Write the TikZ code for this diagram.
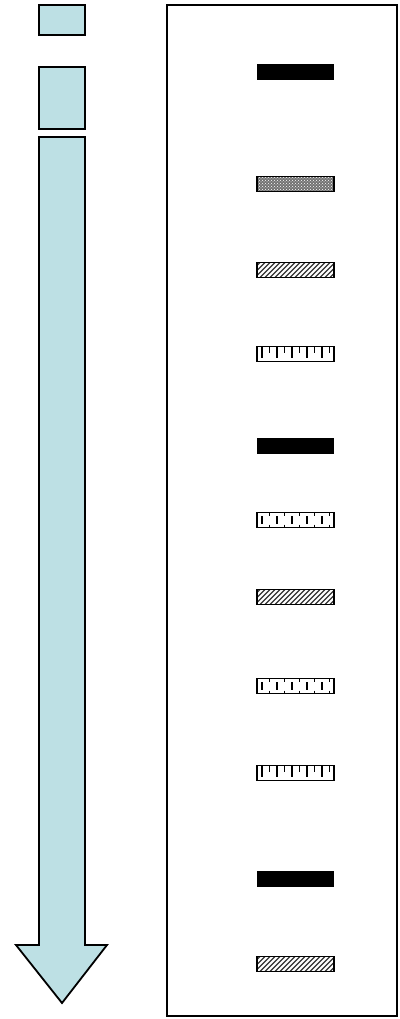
\documentclass[tikz,border=0pt]{standalone}
\usetikzlibrary{patterns}
\definecolor{lightcyan}{RGB}{189,224,228}
\tikzset{
  blueshape/.style={fill=lightcyan, draw=black, line width=1.8pt, line join=miter},
  frame/.style={draw=black, line width=1.8pt},
  barbox/.style={draw=black, line width=1.5pt},
  tick/.style={line width=1.6pt},
}
% bar: #1 = centre y
\newcommand{\solidbar}[1]{\fill[black] (257,#1-8) rectangle (334,#1+8);}
\newcommand{\checkbar}[1]{%
  \fill[black!55] (257,#1-7.5) rectangle (334,#1+7.5);
  \fill[pattern=crosshatch dots, pattern color=white] (257,#1-7.5) rectangle (334,#1+7.5);
  \draw[barbox] (257,#1-7.5) rectangle (334,#1+7.5);}
\newcommand{\hatchbar}[1]{%
  \begin{scope}
  \clip (257,#1-7.5) rectangle (334,#1+7.5);
  \foreach \i in {240,245,...,335} {\draw[line width=1.3pt, black!80] (\i,#1+7.5) -- (\i+15,#1-7.5);}
  \end{scope}
  \draw[barbox] (257,#1-7.5) rectangle (334,#1+7.5);}
\newcommand{\rulerbar}[1]{%
  \foreach \i [count=\k] in {262,269.5,...,331} {%
    \ifodd\k \draw[tick] (\i,#1-7.5) -- (\i,#1+4);
    \else \draw[tick] (\i,#1-7.5) -- (\i,#1-1); \fi}
  \draw[barbox] (257,#1-7.5) rectangle (334,#1+7.5);}
\newcommand{\dashbar}[1]{%
  \foreach \i [count=\k] in {262,269.5,...,331} {%
    \ifodd\k \draw[tick] (\i,#1-4) -- (\i,#1+4);
    \else \draw[tick] (\i,#1-7.5) -- (\i,#1-4.5); \draw[tick] (\i,#1+4.5) -- (\i,#1+7.5); \fi}
  \draw[barbox] (257,#1-7.5) rectangle (334,#1+7.5);}
\begin{document}
\begin{tikzpicture}[x=1pt, y=-1pt]
\useasboundingbox (0,0) rectangle (399,1019);
% left column
\draw[blueshape] (39,5) rectangle (85,35);
\draw[blueshape] (39,67) rectangle (85,129);
\draw[blueshape] (39,137) -- (85,137) -- (85,945) -- (107,945) -- (62,1003) -- (16,945) -- (39,945) -- cycle;
% frame
\draw[frame] (167,5) rectangle (397,1016);
% bars
\solidbar{72}
\checkbar{184}
\hatchbar{270}
\rulerbar{354}
\solidbar{446}
\dashbar{520}
\hatchbar{597}
\dashbar{686}
\rulerbar{773}
\solidbar{879}
\hatchbar{964}
\end{tikzpicture}
\end{document}
